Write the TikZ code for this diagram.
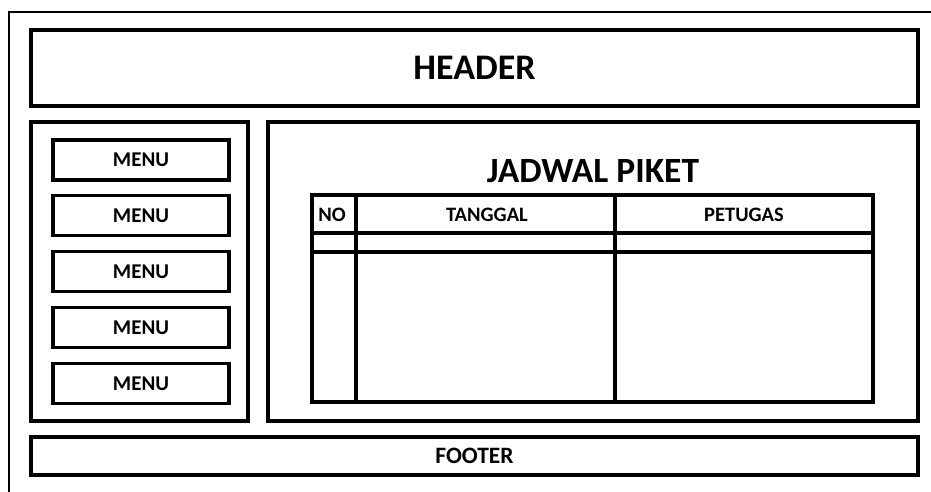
\documentclass[tikz,border=0pt]{standalone}
\usepackage{fontspec}
\setmainfont{Carlito}
\begin{document}
\begin{tikzpicture}[x=1pt,y=-1pt,
  box/.style={draw=black,line width=3.8pt,minimum width=#1,inner sep=0pt,outer sep=0pt},
  menubox/.style={draw=black,line width=3.5pt,minimum width=176pt,minimum height=40pt,inner sep=0pt,outer sep=0pt,font=\fontsize{21}{25}\selectfont\bfseries},
  tline/.style={line width=3.3pt},
  lbl/.style={inner sep=0pt,font=\fontsize{20.5}{24}\selectfont\bfseries}]
\useasboundingbox (0,0) rectangle (931,492);
% outer frame (extends past the picture's right and bottom)
\draw[line width=2.5pt] (9,500) |- (940,12);
% header
\node[box=887pt,minimum height=76pt,font=\fontsize{36}{42}\selectfont\bfseries] (header) at (474.5,68) {HEADER};
% left panel
\node[box=217pt,minimum height=299pt] (left) at (139.5,271.5) {};
% right panel
\node[box=650pt,minimum height=299pt] (right) at (593,271.5) {};
% footer
\node[box=887pt,minimum height=38pt,font=\fontsize{23.5}{28}\selectfont\bfseries] (footer) at (474.5,456) {FOOTER};
% menus
\node[menubox] (m1) at (141,160) {MENU};
\node[menubox] (m2) at (141,215.5) {MENU};
\node[menubox] (m3) at (141,271.5) {MENU};
\node[menubox] (m4) at (141,327.5) {MENU};
\node[menubox] (m5) at (141,383.5) {MENU};
% title
\node[inner sep=0pt,font=\fontsize{35.5}{42}\selectfont\bfseries] (title) at (593,171) {JADWAL PIKET};
% table
\coordinate (tl) at (312,195);
\coordinate (br) at (873,402);
\draw[tline] (tl) rectangle (br);
\coordinate (h1l) at (312,233); \coordinate (h1r) at (873,233);
\coordinate (h2l) at (312,252); \coordinate (h2r) at (873,252);
\coordinate (c1t) at (356,195); \coordinate (c1b) at (356,402);
\coordinate (c2t) at (615,195); \coordinate (c2b) at (615,402);
\draw[tline] (h1l) -- (h1r);
\draw[tline] (h2l) -- (h2r);
\draw[tline] (c1t) -- (c1b);
\draw[tline] (c2t) -- (c2b);
\node[lbl] (no) at (332,215) {NO};
\node[lbl] (tanggal) at (487,215) {TANGGAL};
\node[lbl] (petugas) at (744,215) {PETUGAS};
\end{tikzpicture}
\end{document}
